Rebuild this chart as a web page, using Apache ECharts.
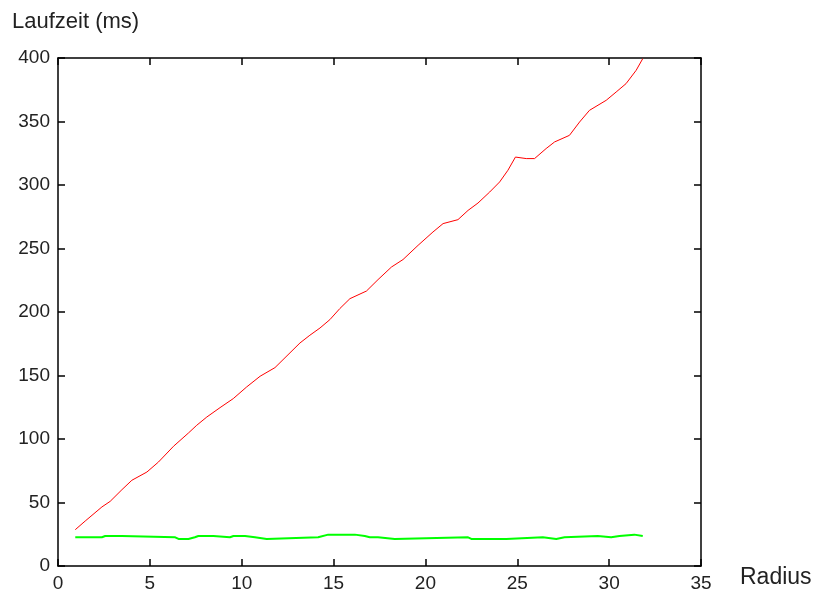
<!DOCTYPE html>
<html>
<head>
<meta charset="utf-8">
<script src="https://cdn.jsdelivr.net/npm/echarts@6/dist/echarts.min.js"></script>
<style>
  html, body { margin: 0; padding: 0; background: #fff; }
  #maindiv { width: 814px; height: 589px; }
</style>
</head>
<body>
<div id="maindiv"></div>
<script>
var redX = [0.94, 1.48, 2.39, 2.84, 3.48, 4.02, 4.84, 5.47, 6.29, 7.1, 7.55, 8.1, 8.82, 9.54, 10.27, 11.0,
            11.81, 13.17, 13.71, 14.26, 14.8, 15.34, 15.89, 16.79, 17.42, 18.15, 18.78, 19.6, 20.41, 20.96,
            21.77, 22.32, 22.86, 23.5, 24.04, 24.49, 24.9, 25.49, 25.94, 26.57, 27.03, 27.84, 28.39, 28.93,
            29.84, 30.38, 30.92, 31.47, 31.83];
var redY = [28.6, 35.4, 46.5, 50.9, 60.1, 67.5, 74, 81.9, 94.3, 104.7, 110.8, 117.3, 124.7, 131.8, 141, 149.4,
            156.2, 175.6, 181.7, 187.4, 194, 202.7, 210.5, 216.5, 225.5, 235.4, 241.3, 252.5, 263, 269.6,
            272.7, 280, 285.8, 294.5, 302.4, 311.6, 322, 320.8, 320.8, 328.7, 333.9, 339.1, 349.6, 358.8,
            366.7, 373.2, 379.8, 390.3, 399.5];

var greenX = [0.94, 2.39, 2.57, 3.48, 3.57, 6.38, 6.56, 7.1, 7.2, 7.45, 7.64, 8.46, 8.55, 9.36, 9.55, 10.18,
              10.27, 10.72, 10.81, 11.36, 11.45, 14.16, 14.71, 16.16, 16.7, 16.97, 17.42, 17.52, 18.33, 18.42,
              22.32, 22.5, 24.4, 24.49, 26.39, 26.48, 27.12, 27.21, 27.57, 27.66, 29.38, 29.47, 30.11, 30.2,
              30.56, 30.65, 31.37, 31.46, 31.83];
var greenY = [22.6, 22.6, 23.6, 23.6, 22.6, 22.6, 21.3, 21.3, 22.6, 22.6, 23.6, 23.6, 22.6, 22.6, 23.6, 23.6,
              22.6, 22.6, 21.3, 21.3, 22.6, 22.6, 24.7, 24.7, 23.6, 22.6, 22.6, 21.3, 21.3, 22.6,
              22.6, 21.3, 21.3, 22.6, 22.6, 21.3, 21.3, 22.6, 22.6, 23.6, 23.6, 22.6, 22.6, 23.6,
              23.6, 24.7, 24.7, 23.6, 23.6];

var xMin = 0, xMax = 35, xStep = 5;
var yMin = 0, yMax = 400, yStep = 50;

function pairs(xs, ys) {
    var out = [];
    for (var i = 0; i < xs.length; i++) out.push([xs[i], ys[i]]);
    return out;
}

var fontName = 'Liberation Sans';
var textColor = '#222';
var frameLine = { show: true, onZero: false, lineStyle: { color: '#000', width: 1.5 } };
var innerTick = { show: true, inside: true, length: 7, lineStyle: { color: '#000', width: 1.5 } };

var chart = echarts.init(document.getElementById('maindiv'), null, { renderer: 'canvas' });
chart.setOption({
    animation: false,
    backgroundColor: '#fff',
    title: {
        text: 'Laufzeit (ms)',
        left: 7, top: 6,
        textStyle: { fontFamily: fontName, fontSize: 22, fontWeight: 'normal', color: textColor }
    },
    grid: { left: 58, right: 113, top: 58, bottom: 23, containLabel: false, outerBoundsMode: 'none' },
    xAxis: [{
        type: 'value', min: xMin, max: xMax, interval: xStep, position: 'bottom',
        axisLine: frameLine, axisTick: innerTick, splitLine: { show: false },
        axisLabel: { margin: 8, fontFamily: fontName, fontSize: 19, color: textColor },
        name: 'Radius', nameLocation: 'end', nameGap: 39,
        nameTextStyle: { fontFamily: fontName, fontSize: 23, color: textColor, verticalAlign: 'top', padding: [0, 0, 0, 0] }
    }, {
        type: 'value', min: xMin, max: xMax, interval: xStep, position: 'top',
        axisLine: frameLine, axisTick: innerTick, splitLine: { show: false }, axisLabel: { show: false }
    }],
    yAxis: [{
        type: 'value', min: yMin, max: yMax, interval: yStep, position: 'left',
        axisLine: frameLine, axisTick: innerTick, splitLine: { show: false },
        axisLabel: { margin: 8, fontFamily: fontName, fontSize: 19, color: textColor }
    }, {
        type: 'value', min: yMin, max: yMax, interval: yStep, position: 'right',
        axisLine: frameLine, axisTick: innerTick, splitLine: { show: false }, axisLabel: { show: false }
    }],
    series: [{
        type: 'line', name: 'rot', data: pairs(redX, redY), showSymbol: false, symbol: 'none',
        lineStyle: { color: '#ff0000', width: 1 }, clip: true
    }, {
        type: 'line', name: 'gruen', data: pairs(greenX, greenY), showSymbol: false, symbol: 'none',
        lineStyle: { color: '#00ff00', width: 2 }, clip: true
    }]
});
</script>
</body>
</html>
